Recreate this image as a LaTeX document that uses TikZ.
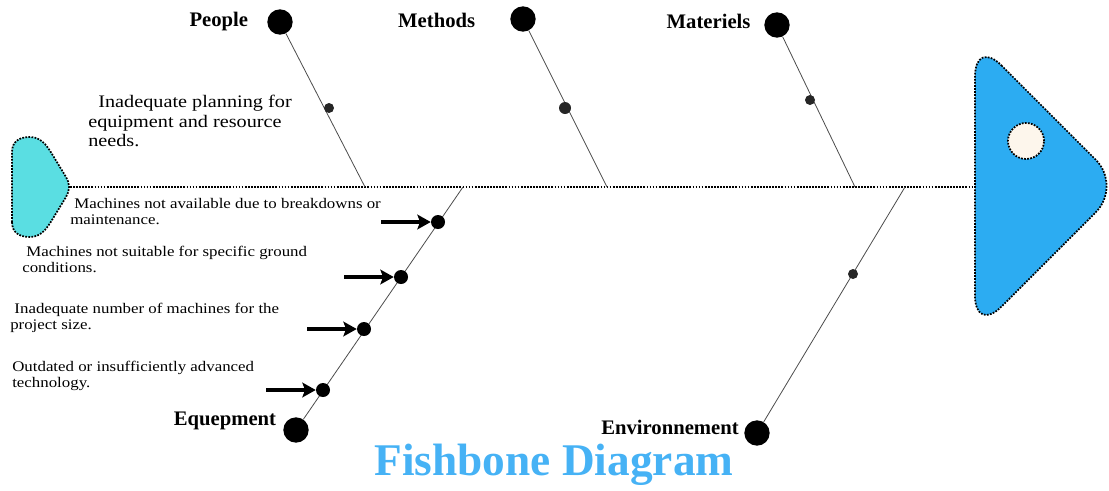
\documentclass[tikz,border=0pt]{standalone}
\usepackage{fontspec}
\setmainfont{Liberation Serif}
\newfontfamily\causefont[FakeStretch=1.15]{Liberation Serif}
\usetikzlibrary{positioning}
\usetikzlibrary{arrows.meta}
\definecolor{tailcyan}{RGB}{90,222,226}
\definecolor{headblue}{RGB}{44,172,242}
\definecolor{eyecream}{RGB}{253,246,236}
\definecolor{titleblue}{RGB}{70,178,245}

\tikzset{
  bigdot/.style={circle,fill=black,inner sep=0pt,minimum size=19pt},
  smalldot/.style={circle,fill=black!85,inner sep=0pt,minimum size=7.5pt},
  causedot/.style={circle,fill=black,inner sep=0pt,minimum size=10.5pt},
  bone/.style={black!70,line width=0.6pt},
  spine/.style={black,densely dotted,line width=1.3pt},
  bonelabel/.style={font=\fontsize{15.5}{18}\selectfont\bfseries,inner sep=0pt},
  cause/.style={font=\causefont\fontsize{11}{12}\selectfont,align=left,inner sep=0pt,anchor=west},
  causearrow/.style={line width=3.2pt,-{Stealth[length=10pt,width=11pt,inset=2pt]}}
}

\begin{document}
\begin{tikzpicture}[x=0.75pt,y=-0.75pt]
\useasboundingbox (0,0) rectangle (1109,490);

% tail and head of the fish
\draw[spine,fill=tailcyan]
  (12,222) -- (12,152) .. controls (12,141) and (20,137) .. (30,137)
  .. controls (40,137) and (46,144) .. (52,154) -- (66,177)
  .. controls (70,183) and (70,191) .. (66,197) -- (52,220)
  .. controls (46,230) and (40,237) .. (30,237)
  .. controls (20,237) and (12,233) .. (12,222) -- cycle;
\draw[spine,fill=headblue,rounded corners=28pt]
  (975,39) -- (1122,186) -- (975,333) -- cycle;
\node[circle,draw,densely dotted,line width=1.3pt,fill=eyecream,minimum size=27pt] (eye) at (1026,141) {};

% backbone
\coordinate (tail) at (70,187);
\coordinate (head) at (975,187);
\draw[spine] (tail) -- (head);

% upper bones
\node[bigdot] (people) at (280,22) {};
\node[bigdot] (methods) at (523,19) {};
\node[bigdot] (materiels) at (777,25) {};
\coordinate (jpeople) at (365,187);
\coordinate (jmethods) at (607,187);
\coordinate (jmateriels) at (855,187);
\draw[bone] (people) -- (jpeople);
\draw[bone] (methods) -- (jmethods);
\draw[bone] (materiels) -- (jmateriels);
\node[smalldot] (p1) at (329,108) {};
\node[smalldot,minimum size=9pt] (m1) at (565,108) {};
\node[smalldot] (t1) at (810,100) {};

\node[bonelabel,left=14pt of people] {People};
\node[bonelabel,left=26pt of methods,yshift=-1pt] {Methods};
\node[bonelabel,left=10pt of materiels,yshift=3pt] {Materiels};

% lower bones
\node[bigdot] (equip) at (296,430) {};
\node[bigdot] (envir) at (757,433) {};
\coordinate (jequip) at (463,187);
\coordinate (jenvir) at (905,187);
\draw[bone] (equip) -- (jequip);
\draw[bone] (envir) -- (jenvir);
\node[smalldot] (v1) at (853,274) {};

\node[bonelabel] at (225,421) {Equepment};
\node[bonelabel] at (670,427) {Environnement};

% causes on the equipment bone
\node[causedot] (e1) at (438,222) {};
\node[causedot] (e2) at (401,277) {};
\node[causedot] (e3) at (364,329) {};
\node[causedot] (e4) at (323,390) {};
\foreach \i in {1,...,4}
  \draw[causearrow] ([xshift=-37pt]e\i.west) -- (e\i.west);

\node[cause] at (70,212) {\ Machines not available due to breakdowns or\\maintenance.};
\node[cause] at (22,259) {\ Machines not suitable for specific ground\\conditions.};
\node[cause] at (10,318) {\ Inadequate number of machines for the\\project size.};
\node[cause] at (12,376) {Outdated or insufficiently advanced\\technology.};

\node[cause,font=\causefont\fontsize{13.2}{14.4}\selectfont] at (88,121)
  {\ \ Inadequate planning for\\equipment and resource\\needs.};

% title
\node[font=\fontsize{34}{36}\selectfont\bfseries,text=titleblue] (title) at (554,465) {Fishbone Diagram};
\end{tikzpicture}
\end{document}
